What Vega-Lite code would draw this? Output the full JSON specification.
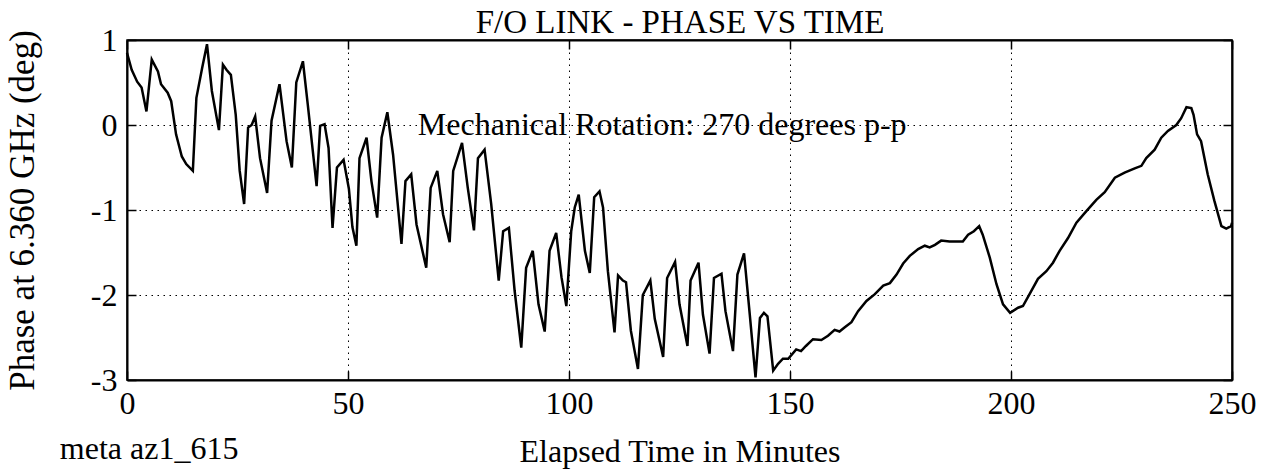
{
  "$schema": "https://vega.github.io/schema/vega-lite/v6.json",
  "width": 1105,
  "height": 340,
  "autosize": {"type": "none"},
  "padding": {"left": 127, "top": 40, "right": 36, "bottom": 90},
  "background": "white",
  "config": {
    "font": "Liberation Serif",
    "view": {"stroke": "black", "strokeWidth": 1.5},
    "axis": {
      "domainColor": "black", "domainWidth": 2,
      "tickColor": "black", "tickWidth": 1.5, "tickSize": -9,
      "labelColor": "black", "labelFont": "Liberation Serif", "labelFontSize": 32,
      "titleFont": "Liberation Serif", "titleFontSize": 32, "titleFontWeight": "normal", "titleColor": "black",
      "gridColor": "black", "gridDash": [1.5, 4.5], "gridWidth": 1, "gridOpacity": 1
    }
  },
  "layer": [
    {
      "data": {"values": [
        {"t":0,"phase":0.85},{"t":1.06,"phase":0.65},{"t":2.3,"phase":0.51},{"t":3.3,"phase":0.44},{"t":4.4,"phase":0.16},{"t":5.6,"phase":0.77},{"t":7.0,"phase":0.63},{"t":7.7,"phase":0.48},{"t":9.2,"phase":0.38},{"t":10.0,"phase":0.28},{"t":11.1,"phase":-0.11},{"t":12.4,"phase":-0.37},{"t":13.4,"phase":-0.46},{"t":14.9,"phase":-0.54},{"t":15.7,"phase":0.32},{"t":17.0,"phase":0.67},{"t":18.1,"phase":0.95},{"t":19.2,"phase":0.40},{"t":20.8,"phase":-0.06},{"t":21.7,"phase":0.71},{"t":22.5,"phase":0.65},{"t":23.5,"phase":0.59},{"t":24.6,"phase":0.12},{"t":25.5,"phase":-0.54},{"t":26.5,"phase":-0.93},{"t":27.4,"phase":-0.03},{"t":28.2,"phase":0.0},{"t":29.0,"phase":0.10},{"t":30.1,"phase":-0.39},{"t":31.7,"phase":-0.80},{"t":32.7,"phase":0.05},{"t":34.5,"phase":0.48},{"t":36.1,"phase":-0.19},{"t":37.3,"phase":-0.50},{"t":38.3,"phase":0.50},{"t":39.8,"phase":0.75},{"t":40.9,"phase":0.24},{"t":42.9,"phase":-0.72},{"t":43.7,"phase":-0.01},{"t":44.7,"phase":0.01},{"t":45.6,"phase":-0.27},{"t":46.5,"phase":-1.21},{"t":47.5,"phase":-0.50},{"t":49.0,"phase":-0.41},{"t":50.2,"phase":-0.75},{"t":51.0,"phase":-1.2},{"t":51.9,"phase":-1.42},{"t":52.6,"phase":-0.39},{"t":54.2,"phase":-0.15},{"t":55.3,"phase":-0.66},{"t":56.6,"phase":-1.09},{"t":57.6,"phase":-0.15},{"t":58.9,"phase":0.15},{"t":60.2,"phase":-0.35},{"t":62.1,"phase":-1.40},{"t":63.0,"phase":-0.66},{"t":64.3,"phase":-0.58},{"t":65.5,"phase":-1.17},{"t":67.7,"phase":-1.68},{"t":68.7,"phase":-0.74},{"t":70.2,"phase":-0.54},{"t":71.5,"phase":-1.05},{"t":73.0,"phase":-1.38},{"t":73.8,"phase":-0.54},{"t":75.8,"phase":-0.21},{"t":77.1,"phase":-0.74},{"t":78.5,"phase":-1.24},{"t":79.4,"phase":-0.39},{"t":80.9,"phase":-0.29},{"t":82.4,"phase":-0.93},{"t":84.1,"phase":-1.83},{"t":85.1,"phase":-1.25},{"t":86.4,"phase":-1.21},{"t":87.7,"phase":-1.95},{"t":89.2,"phase":-2.62},{"t":90.3,"phase":-1.68},{"t":91.8,"phase":-1.48},{"t":93.1,"phase":-2.11},{"t":94.5,"phase":-2.43},{"t":95.6,"phase":-1.48},{"t":97.1,"phase":-1.27},{"t":98.3,"phase":-1.79},{"t":99.4,"phase":-2.13},{"t":100.5,"phase":-1.25},{"t":101.3,"phase":-0.97},{"t":102.2,"phase":-0.82},{"t":103.6,"phase":-1.48},{"t":104.7,"phase":-1.74},{"t":105.7,"phase":-0.85},{"t":106.9,"phase":-0.78},{"t":107.7,"phase":-0.97},{"t":108.8,"phase":-1.72},{"t":110.3,"phase":-2.44},{"t":111.1,"phase":-1.77},{"t":112.2,"phase":-1.83},{"t":112.9,"phase":-1.85},{"t":114.0,"phase":-2.42},{"t":115.6,"phase":-2.87},{"t":116.7,"phase":-2.00},{"t":118.4,"phase":-1.83},{"t":119.4,"phase":-2.28},{"t":121.3,"phase":-2.73},{"t":122.2,"phase":-1.80},{"t":124.0,"phase":-1.61},{"t":125.0,"phase":-2.11},{"t":126.8,"phase":-2.60},{"t":127.5,"phase":-1.83},{"t":129.3,"phase":-1.62},{"t":130.3,"phase":-2.23},{"t":131.8,"phase":-2.69},{"t":132.8,"phase":-1.80},{"t":134.5,"phase":-1.75},{"t":135.4,"phase":-2.19},{"t":137.1,"phase":-2.66},{"t":138.1,"phase":-1.76},{"t":139.6,"phase":-1.51},{"t":140.9,"phase":-2.23},{"t":142.2,"phase":-2.97},{"t":143.2,"phase":-2.27},{"t":144.1,"phase":-2.21},{"t":144.9,"phase":-2.25},{"t":146.2,"phase":-2.89},{"t":147.3,"phase":-2.81},{"t":148.4,"phase":-2.75},{"t":149.6,"phase":-2.75},{"t":151.4,"phase":-2.64},{"t":152.5,"phase":-2.66},{"t":153.6,"phase":-2.60},{"t":155.2,"phase":-2.52},{"t":157.1,"phase":-2.53},{"t":158.6,"phase":-2.48},{"t":160.1,"phase":-2.41},{"t":161.2,"phase":-2.43},{"t":162.4,"phase":-2.38},{"t":163.9,"phase":-2.32},{"t":165.4,"phase":-2.19},{"t":167.3,"phase":-2.07},{"t":169.2,"phase":-1.99},{"t":171.1,"phase":-1.89},{"t":172.6,"phase":-1.86},{"t":174.1,"phase":-1.76},{"t":175.6,"phase":-1.63},{"t":177.1,"phase":-1.54},{"t":179.0,"phase":-1.46},{"t":180.5,"phase":-1.42},{"t":181.6,"phase":-1.44},{"t":182.8,"phase":-1.41},{"t":184.2,"phase":-1.36},{"t":186.1,"phase":-1.37},{"t":189.1,"phase":-1.37},{"t":190.3,"phase":-1.29},{"t":191.6,"phase":-1.25},{"t":192.8,"phase":-1.19},{"t":193.6,"phase":-1.29},{"t":195.2,"phase":-1.56},{"t":196.7,"phase":-1.87},{"t":198.2,"phase":-2.11},{"t":199.8,"phase":-2.21},{"t":201.6,"phase":-2.15},{"t":202.7,"phase":-2.13},{"t":204.2,"phase":-1.99},{"t":206.1,"phase":-1.81},{"t":208.0,"phase":-1.72},{"t":209.5,"phase":-1.62},{"t":211.0,"phase":-1.48},{"t":212.9,"phase":-1.33},{"t":214.8,"phase":-1.15},{"t":217.1,"phase":-1.01},{"t":219.3,"phase":-0.88},{"t":221.2,"phase":-0.79},{"t":223.5,"phase":-0.62},{"t":225.7,"phase":-0.56},{"t":228.0,"phase":-0.51},{"t":229.5,"phase":-0.48},{"t":230.6,"phase":-0.39},{"t":232.5,"phase":-0.29},{"t":234.0,"phase":-0.15},{"t":235.5,"phase":-0.07},{"t":237.4,"phase":0.0},{"t":238.5,"phase":0.08},{"t":239.7,"phase":0.21},{"t":240.8,"phase":0.20},{"t":241.3,"phase":0.12},{"t":242.1,"phase":-0.11},{"t":243.0,"phase":-0.19},{"t":244.5,"phase":-0.58},{"t":246.0,"phase":-0.89},{"t":247.6,"phase":-1.19},{"t":248.7,"phase":-1.22},{"t":249.8,"phase":-1.19},{"t":250,"phase":-1.15}
      ]},
      "mark": {"type": "line", "color": "black", "strokeWidth": 2.5},
      "encoding": {
        "x": {"field": "t", "type": "quantitative",
          "scale": {"domain": [0, 250], "nice": false, "zero": false},
          "axis": {"values": [0, 50, 100, 150, 200, 250], "grid": true, "title": "Elapsed Time in Minutes", "labelPadding": 17, "titlePadding": 17, "labelFlush": false, "labelExpr": "'' + datum.value"}},
        "y": {"field": "phase", "type": "quantitative",
          "scale": {"domain": [-3, 1], "nice": false, "zero": false},
          "axis": {"values": [-3, -2, -1, 0, 1], "grid": true, "title": "Phase at 6.360 GHz (deg)", "titleFontSize": 35, "labelPadding": 19, "titlePadding": 50, "labelFlush": false, "labelExpr": "'' + datum.value"}}
      }
    },
    {
      "data": {"values": [{"note": "Mechanical Rotation: 270 degrees p-p", "t": 65.8, "phase": -0.118}]},
      "mark": {"type": "text", "align": "left", "baseline": "alphabetic", "font": "Liberation Serif", "fontSize": 32, "color": "black"},
      "encoding": {
        "text": {"field": "note"},
        "x": {"field": "t", "type": "quantitative", "scale": {"domain": [0, 250], "nice": false, "zero": false},
          "axis": {"orient": "top", "labels": false, "grid": false, "title": "F/O LINK - PHASE VS TIME", "titleFontSize": 33, "titlePadding": 0, "values": [0, 50, 100, 150, 200, 250]}},
        "y": {"field": "phase", "type": "quantitative", "scale": {"domain": [-3, 1], "nice": false, "zero": false},
          "axis": {"orient": "right", "labels": false, "grid": false, "title": null, "values": [-3, -2, -1, 0, 1]}}
      }
    },
    {
      "data": {"values": [{"note": "meta az1_615", "t": -15.2, "phase": -3.93}]},
      "mark": {"type": "text", "align": "left", "baseline": "alphabetic", "font": "Liberation Serif", "fontSize": 32, "color": "black"},
      "encoding": {
        "text": {"field": "note"},
        "x": {"field": "t", "type": "quantitative", "axis": null},
        "y": {"field": "phase", "type": "quantitative", "axis": null}
      }
    }
  ],
  "resolve": {"axis": {"x": "independent", "y": "independent"}}
}
